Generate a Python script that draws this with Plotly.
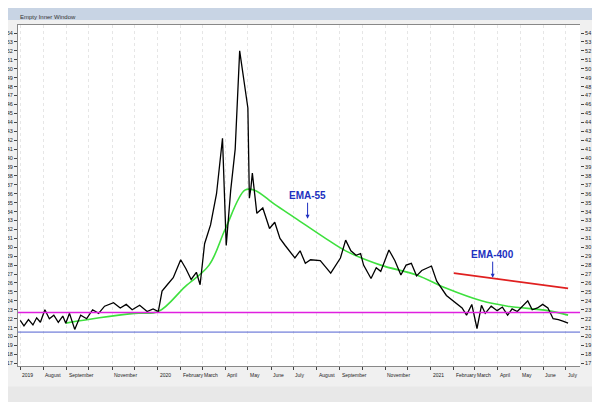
import plotly.graph_objects as go

# price (black)
price_dates = ["2019-07-01", "2019-07-06", "2019-07-12", "2019-07-18", "2019-07-23", "2019-07-28",
               "2019-08-03", "2019-08-09", "2019-08-15", "2019-08-21", "2019-08-27", "2019-08-31",
               "2019-09-05", "2019-09-12", "2019-09-20", "2019-09-28", "2019-10-06", "2019-10-14",
               "2019-10-22", "2019-11-03", "2019-11-12", "2019-11-20", "2019-11-28", "2019-12-08",
               "2019-12-18", "2019-12-26", "2020-01-02", "2020-01-07", "2020-01-14", "2020-01-22",
               "2020-02-01", "2020-02-08", "2020-02-15", "2020-02-22", "2020-02-27", "2020-03-04",
               "2020-03-12", "2020-03-20", "2020-03-28", "2020-04-02", "2020-04-08", "2020-04-14",
               "2020-04-20", "2020-04-27", "2020-05-01", "2020-05-03", "2020-05-05", "2020-05-07",
               "2020-05-10", "2020-05-13", "2020-05-21", "2020-05-30", "2020-06-06", "2020-06-13",
               "2020-06-20", "2020-07-03", "2020-07-10", "2020-07-17", "2020-07-24", "2020-08-06",
               "2020-08-13", "2020-08-20", "2020-09-02", "2020-09-09", "2020-09-16", "2020-09-23",
               "2020-09-29", "2020-10-03", "2020-10-13", "2020-10-20", "2020-10-26", "2020-11-06",
               "2020-11-14", "2020-11-22", "2020-11-29", "2020-12-06", "2020-12-13", "2020-12-20",
               "2021-01-02", "2021-01-09", "2021-01-22", "2021-02-05", "2021-02-12", "2021-02-18",
               "2021-02-25", "2021-03-04", "2021-03-10", "2021-03-15", "2021-03-23", "2021-03-31",
               "2021-04-07", "2021-04-14", "2021-04-20", "2021-04-27", "2021-05-04", "2021-05-11",
               "2021-05-17", "2021-05-24", "2021-05-31", "2021-06-07", "2021-06-14", "2021-06-21",
               "2021-06-28", "2021-07-04"]
price = [21.8, 21.2, 21.9, 21.3, 22.1, 21.6,
         23.0, 22.0, 22.4, 21.6, 22.3, 21.5,
         22.6, 20.8, 22.4, 22.0, 23.0, 22.6,
         23.4, 23.8, 23.2, 23.6, 23.0, 23.5,
         22.8, 23.1, 22.8, 25.1, 25.8, 26.6,
         28.6, 27.6, 26.4, 27.2, 25.8, 30.4,
         32.5, 36.0, 42.2, 30.2, 36.4, 41.0,
         52.0, 47.8, 45.6, 35.5, 36.6, 38.3,
         35.8, 33.8, 34.4, 32.1, 32.8, 31.0,
         30.2, 28.8, 29.6, 28.2, 28.6, 28.5,
         27.8, 27.1, 28.8, 30.8, 29.6, 29.1,
         29.3, 28.0, 26.5, 27.7, 27.3, 29.7,
         28.5, 26.9, 28.0, 28.2, 26.8, 27.4,
         27.9, 26.2, 24.6, 23.7, 23.2, 22.4,
         23.6, 20.9, 23.5, 22.6, 23.4, 22.9,
         23.3, 22.4, 23.1, 22.8, 23.4, 24.0,
         23.0, 23.2, 23.6, 23.2, 22.0, 21.9,
         21.7, 21.5]

# EMA-55 (green)
ema55_dates = ["2019-08-31", "2019-10-15", "2019-12-01", "2020-01-02", "2020-02-07", "2020-03-10",
               "2020-04-01", "2020-04-27", "2020-05-10", "2020-06-06", "2020-07-03", "2020-08-13",
               "2020-09-09", "2020-10-26", "2020-12-13", "2021-01-22", "2021-03-10", "2021-04-14",
               "2021-06-07", "2021-07-04"]
ema55 = [21.5, 22.1, 22.6, 22.8, 25.6, 28.0,
         32.1, 36.4, 36.4, 34.8, 33.3, 31.0,
         29.6, 28.0, 26.9, 25.4, 24.0, 23.4,
         22.9, 22.4]

# EMA-400 (red)
ema400_dates = ["2021-02-01", "2021-07-04"]
ema400 = [27.1, 25.4]

support_hi = 22.7
support_lo = 20.5

tick_dates = ["2019-07-01", "2019-08-01", "2019-09-01", "2019-10-01", "2019-11-01", "2019-12-01",
              "2020-01-01", "2020-02-01", "2020-03-01", "2020-04-01", "2020-05-01", "2020-06-01",
              "2020-07-01", "2020-08-01", "2020-09-01", "2020-10-01", "2020-11-01", "2020-12-01",
              "2021-01-01", "2021-02-01", "2021-03-01", "2021-04-01", "2021-05-01", "2021-06-01",
              "2021-07-01"]
tick_text = ["2019", "August", "September", "", "November", "",
             "2020", "February", "March", "April", "May", "June",
             "July", "August", "September", "", "November", "",
             "2021", "February", "March", "April", "May", "June",
             "July"]

fig = go.Figure()
fig.add_trace(go.Scatter(x=ema55_dates, y=ema55, mode="lines", line=dict(color="#3ee03e", width=1.6),
                         line_shape="spline"))
fig.add_trace(go.Scatter(x=ema400_dates, y=ema400, mode="lines", line=dict(color="#e02020", width=1.6)))
fig.add_trace(go.Scatter(x=price_dates, y=price, mode="lines", line=dict(color="black", width=1.3)))
fig.add_trace(go.Scatter(x=[price_dates[0]], y=[price[0]], yaxis="y2", mode="markers",
                         marker=dict(opacity=0), hoverinfo="skip"))

fig.add_hline(y=support_hi, line=dict(color="#e020e0", width=1.6))
fig.add_hline(y=support_lo, line=dict(color="#5060d0", width=1))

fig.add_annotation(x="2020-07-20", y=33.2, text="<b>EMA-55</b>", showarrow=True, ax=0, ay=-16,
                   arrowcolor="#2030c0", arrowhead=2, arrowsize=0.8,
                   font=dict(color="#2030c0", size=10, family="Arial"), yanchor="bottom")
fig.add_annotation(x="2021-03-25", y=26.6, text="<b>EMA-400</b>", showarrow=True, ax=0, ay=-16,
                   arrowcolor="#2030c0", arrowhead=2, arrowsize=0.8,
                   font=dict(color="#2030c0", size=10, family="Arial"), yanchor="bottom")

# month labels, left-aligned after each tick
for d, t in zip(tick_dates, tick_text):
    if t:
        fig.add_annotation(x=d, xref="x", yref="paper", y=-0.012, text=t, showarrow=False,
                           xanchor="left", yanchor="top", xshift=0, font=dict(size=5, color="#222"))

# window chrome
fig.add_shape(type="rect", xref="paper", yref="paper", x0=-0.04, x1=1.05, y0=1.015, y1=1.06,
              fillcolor="#c8d4e4", line=dict(width=0))
fig.add_annotation(xref="paper", yref="paper", x=0.0, y=1.037, text="Empty Inner Window",
                   showarrow=False, xanchor="left", font=dict(size=6, color="#333"))
fig.add_shape(type="rect", xref="paper", yref="paper", x0=-0.04, x1=1.05, y0=-0.14, y1=-0.06,
              fillcolor="#e8e8e8", line=dict(width=0))

yr = [16.7, 54.9]
fig.update_layout(
    width=600, height=402, showlegend=False,
    margin=dict(l=10, r=28, t=17, b=44),
    paper_bgcolor="#f0f0f0", plot_bgcolor="white",
    font=dict(family="Arial", size=6, color="#222"),
    xaxis=dict(type="date", range=["2019-06-28", "2021-07-20"], tickvals=tick_dates, ticktext=[""] * len(tick_dates),
               showgrid=True, gridcolor="#e6e6e6", griddash="dot", ticks="outside", ticklen=3,
               showline=True, linecolor="#888", mirror=True, automargin=False),
    yaxis=dict(range=yr, dtick=1, tick0=18, showgrid=False, ticks="outside", ticklen=3,
               showline=True, linecolor="#888", tickfont=dict(size=5.5), automargin=False),
    yaxis2=dict(range=yr, dtick=1, tick0=18, overlaying="y", side="right", showgrid=False,
                ticks="outside", ticklen=3, tickfont=dict(size=5.5), automargin=False),
)

fig.write_html("out.html")
